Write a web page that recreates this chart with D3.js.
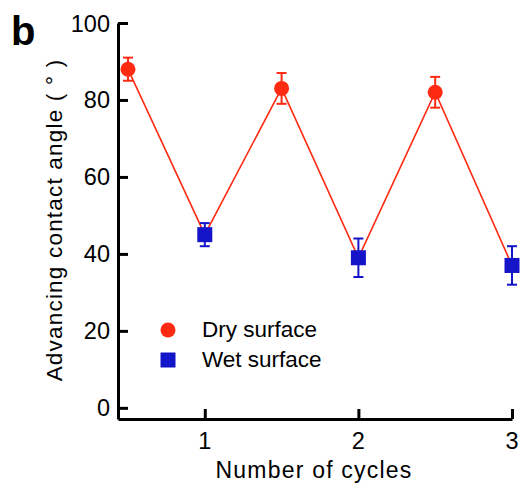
<!DOCTYPE html>
<html>
<head>
<meta charset="utf-8">
<script src="https://cdn.jsdelivr.net/npm/d3@7"></script>
<style>
  body { margin: 0; background: #fff; }
  text { font-family: "Liberation Sans", Arial, sans-serif; }
</style>
</head>
<body>
<svg></svg>
<script>
/* Advancing contact angle vs cycles */
var w = 522, h = 489;

var dryCycles = [0.5, 1.5, 2.5];
var dryValues = [88, 83, 82];
var dryErrors = [3, 4, 4];

var wetCycles = [1, 2, 3];
var wetValues = [45, 39, 37];
var wetErrors = [3, 5, 5];

var xTicks = [1, 2, 3];
var yTicks = [0, 20, 40, 60, 80, 100];

var red = "#ff2a12", blue = "#1414c8";

var svg = d3.select("svg")
            .attr("width", w)
            .attr("height", h);

var x = d3.scaleLinear().domain([0.435, 3]).range([118, 512]);
var y = d3.scaleLinear().domain([-2.9, 100]).range([419, 23]);

// axes (ticks point inward)
var yAxis = svg.append("g")
  .attr("transform", "translate(" + x(0.435) + ",0)")
  .call(d3.axisRight(y).tickValues(yTicks).tickSize(10).tickSizeOuter(0).tickFormat(""));
yAxis.select(".domain").attr("stroke-width", 3);
yAxis.selectAll(".tick line").attr("stroke-width", 3);

var xAxis = svg.append("g")
  .attr("transform", "translate(0," + y(-2.9) + ")")
  .call(d3.axisTop(x).tickValues(xTicks).tickSize(10).tickSizeOuter(0).tickFormat(""));
xAxis.select(".domain").attr("stroke-width", 3);
xAxis.selectAll(".tick line").attr("stroke-width", 3);

// tick labels
svg.append("g").selectAll("text")
  .data(yTicks).enter().append("text")
  .attr("x", 110)
  .attr("y", function(d) { return y(d) + 8.5; })
  .attr("text-anchor", "end")
  .attr("font-size", 23.5)
  .text(function(d) { return d; });

svg.append("g").selectAll("text")
  .data(xTicks).enter().append("text")
  .attr("x", function(d) { return x(d); })
  .attr("y", 449)
  .attr("text-anchor", "middle")
  .attr("font-size", 23.5)
  .text(function(d) { return d; });

// axis titles
svg.append("text")
  .attr("x", 314).attr("y", 478)
  .attr("text-anchor", "middle")
  .attr("font-size", 23)
  .attr("letter-spacing", 1.2)
  .text("Number of cycles");

svg.append("text")
  .attr("transform", "translate(62,220) rotate(-90)")
  .attr("text-anchor", "middle")
  .attr("font-size", 22.5)
  .attr("letter-spacing", 1.2)
  .text("Advancing contact angle ( ° )");

svg.append("text")
  .attr("x", 11).attr("y", 45)
  .attr("font-size", 40)
  .attr("font-weight", "bold")
  .text("b");

// connecting line through alternating points
var allPts = dryCycles.map(function(c, i) { return [c, dryValues[i]]; })
  .concat(wetCycles.map(function(c, i) { return [c, wetValues[i]]; }))
  .sort(function(a, b) { return a[0] - b[0]; });

svg.append("path")
  .datum(allPts)
  .attr("fill", "none")
  .attr("stroke", red)
  .attr("stroke-width", 1.6)
  .attr("d", d3.line().x(function(d) { return x(d[0]); }).y(function(d) { return y(d[1]); }));

function errorBars(cycles, values, errs, color) {
  var g = svg.append("g").attr("stroke", color).attr("stroke-width", 2);
  cycles.forEach(function(c, i) {
    var cx = x(c), lo = y(values[i] - errs[i]), hi = y(values[i] + errs[i]);
    g.append("line").attr("x1", cx).attr("x2", cx).attr("y1", lo).attr("y2", hi);
    g.append("line").attr("x1", cx - 5).attr("x2", cx + 5).attr("y1", lo).attr("y2", lo);
    g.append("line").attr("x1", cx - 5).attr("x2", cx + 5).attr("y1", hi).attr("y2", hi);
  });
}
errorBars(dryCycles, dryValues, dryErrors, red);
errorBars(wetCycles, wetValues, wetErrors, blue);

svg.append("g").selectAll("circle")
  .data(dryCycles).enter().append("circle")
  .attr("cx", function(d) { return x(d); })
  .attr("cy", function(d, i) { return y(dryValues[i]); })
  .attr("r", 7.5)
  .attr("fill", red);

svg.append("g").selectAll("rect")
  .data(wetCycles).enter().append("rect")
  .attr("x", function(d) { return x(d) - 7.5; })
  .attr("y", function(d, i) { return y(wetValues[i]) - 7.5; })
  .attr("width", 15).attr("height", 15)
  .attr("fill", blue);

// legend
var legend = svg.append("g");
legend.append("circle").attr("cx", 168).attr("cy", 330).attr("r", 7.5).attr("fill", red);
legend.append("text").attr("x", 202).attr("y", 337).attr("font-size", 22.5).text("Dry surface");
legend.append("rect").attr("x", 160.5).attr("y", 352.5).attr("width", 15).attr("height", 15).attr("fill", blue);
legend.append("text").attr("x", 202).attr("y", 367).attr("font-size", 22.5).text("Wet surface");
</script>
</body>
</html>
